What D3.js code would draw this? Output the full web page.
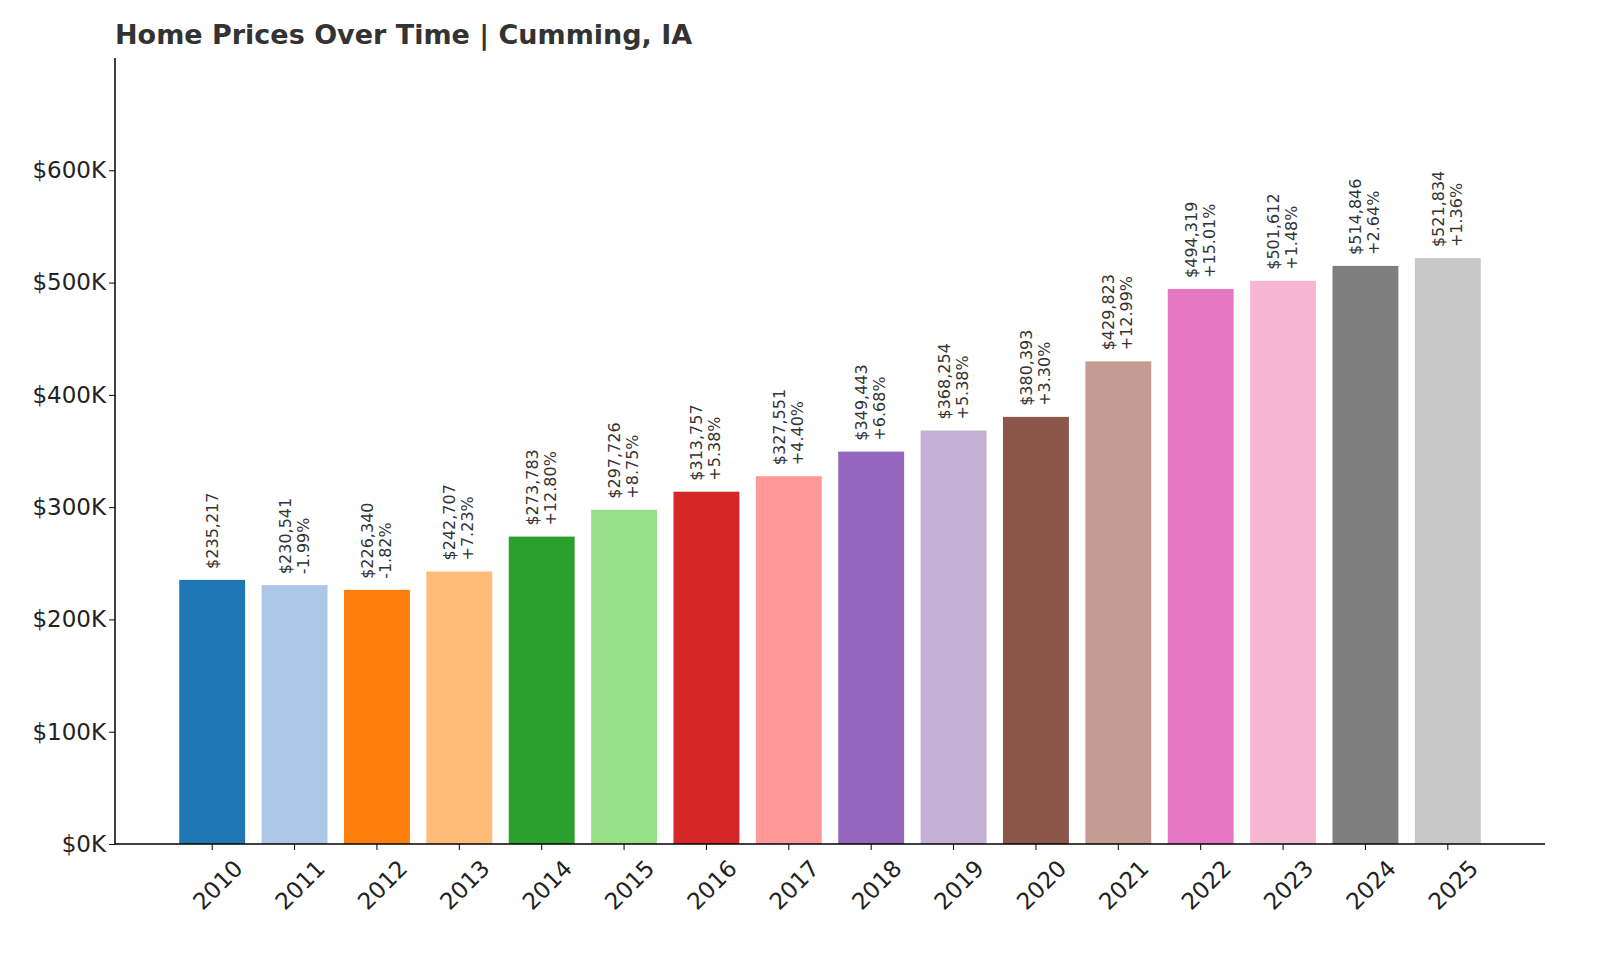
<!DOCTYPE html>
<html lang="en">
<head>
<meta charset="UTF-8">
<script src="https://d3js.org/d3.v7.min.js"></script>
<style>
  body { margin: 0; background: #fff; }
  text { font-family: "DejaVu Sans", sans-serif; }
</style>
</head>
<body>
<div id="chart"></div>
<script>
const years = ["2010","2011","2012","2013","2014","2015","2016","2017","2018","2019","2020","2021","2022","2023","2024","2025"];
const prices = [235217,230541,226340,242707,273783,297726,313757,327551,349443,368254,380393,429823,494319,501612,514846,521834];
const changes = [null,"-1.99%","-1.82%","+7.23%","+12.80%","+8.75%","+5.38%","+4.40%","+6.68%","+5.38%","+3.30%","+12.99%","+15.01%","+1.48%","+2.64%","+1.36%"];
const colors = ["#1f77b4","#aec7e8","#ff7f0e","#ffbb78","#2ca02c","#98df8a","#d62728","#ff9896","#9467bd","#c5b0d5","#8c564b","#c49c94","#e377c2","#f7b6d2","#7f7f7f","#c7c7c7"];
const yTicks = [0,100000,200000,300000,400000,500000,600000];

const svg = d3.select("#chart").append("svg").attr("width",1600).attr("height",960);
const x = d3.scaleBand().domain(years).range([171,1489]).paddingInner(0.2).paddingOuter(0.1);
const y = d3.scaleLinear().domain([0,700000]).range([844,58]);

svg.append("text").attr("x",115).attr("y",44).attr("font-size",27).attr("font-weight","bold")
  .attr("fill","#333").text("Home Prices Over Time | Cumming, IA");

svg.selectAll("rect.bar").data(prices).join("rect")
  .attr("x",(d,i)=>x(years[i])).attr("width",x.bandwidth())
  .attr("y",d=>y(d)).attr("height",d=>844-y(d)).attr("fill",(d,i)=>colors[i]);

// labels
prices.forEach((p,i)=>{
  const cx = x(years[i])+x.bandwidth()/2;
  const g = svg.append("g").attr("transform",`translate(${cx},${y(p)-11}) rotate(-90)`);
  const lines = changes[i] ? ["$"+d3.format(",")(p), changes[i]] : ["$"+d3.format(",")(p)];
  const off = lines.length===2 ? [-4,14] : [6];
  lines.forEach((t,k)=>g.append("text").attr("x",0).attr("y",off[k])
    .attr("font-size",16).attr("fill","#333").text(t));
});

// axes
const yAxis = svg.append("g").attr("transform","translate(115,0)")
  .call(d3.axisLeft(y).tickValues(yTicks).tickFormat(d=>"$"+(d/1000)+"K").tickSize(6));
yAxis.select(".domain").attr("d","M0,58V844");
yAxis.selectAll("text").attr("font-size",23).attr("fill","#222");
const xAxis = svg.append("g").attr("transform","translate(0,844)")
  .call(d3.axisBottom(x).tickSize(6));
xAxis.select(".domain").attr("d","M115,0H1545");
xAxis.selectAll("text").attr("font-size",23).attr("fill","#222")
  .attr("text-anchor","end").attr("transform","translate(14,8) rotate(-45)");
svg.selectAll(".domain").attr("stroke","#000").attr("stroke-width",1.5);
</script>
</body>
</html>
